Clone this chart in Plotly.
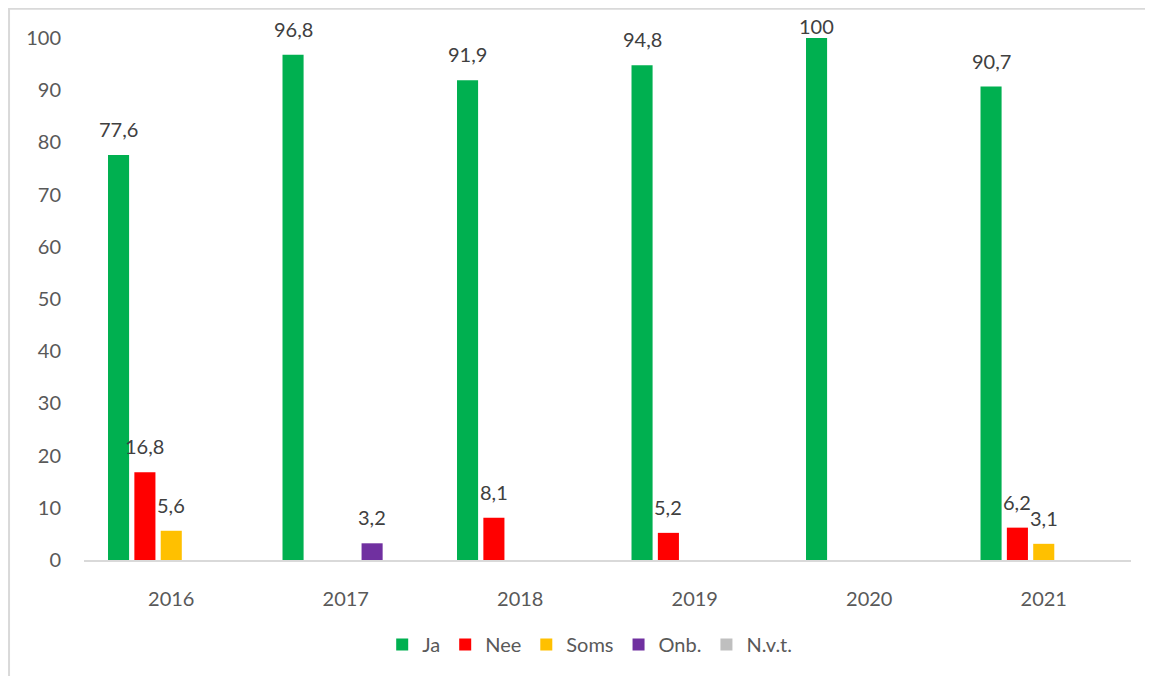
import plotly.graph_objects as go

years = ["2016", "2017", "2018", "2019", "2020", "2021"]
ja = [77.6, 96.8, 91.9, 94.8, 100, 90.7]
nee = [16.8, None, 8.1, 5.2, None, 6.2]
soms = [5.6, None, None, None, None, 3.1]
onb = [None, 3.2, None, None, None, None]
nvt = [None, None, None, None, None, None]

SERIES = [("Ja", ja, "#00b050"), ("Nee", nee, "#ff0000"), ("Soms", soms, "#ffc000"),
          ("Onb.", onb, "#7030a0"), ("N.v.t.", nvt, "#bfbfbf")]
FONT = "Lato, 'Open Sans', sans-serif"
TXT = "#404040"

W, H = 1145, 668          # page body has an 8px margin, figure sits 8px in
ML, MR, MT, MB = 76, 22, 30, 111
BARGAP = 0.245
PLOT_W, PLOT_H = W - ML - MR, H - MT - MB
SLOT = PLOT_W / len(years) * (1 - BARGAP) / len(SERIES)


def _lab(v):
    return f"{v:g}".replace(".", ",")


fig = go.Figure()
for i, (name, vals, color) in enumerate(SERIES):
    fig.add_trace(go.Bar(x=years, y=vals, name=name,
                         marker=dict(color=color, line=dict(width=0))))
    for j, v in enumerate(vals):
        if v is None:
            continue
        # excel pulls labels down when they would leave the chart area
        room = MT + PLOT_H * (1 - v / 100) - 10
        fig.add_annotation(x=j, y=v, text=_lab(v), showarrow=False, yanchor="bottom",
                           xshift=(i - 2) * SLOT, yshift=min(12, room - 22),
                           font=dict(size=20, color=TXT, family=FONT))

fig.update_layout(
    width=W, height=H, barmode="group", bargap=BARGAP, bargroupgap=0.2,
    plot_bgcolor="white", paper_bgcolor="white",
    margin=dict(l=ML, r=MR, t=MT, b=MB),
    font=dict(family=FONT, size=20, color=TXT),
    showlegend=True,
    legend=dict(orientation="h", x=0.483, xanchor="center", y=-0.162, yanchor="middle",
                font=dict(size=20, color="#595959"), itemwidth=30, tracegroupgap=0),
)
fig.update_xaxes(type="category", showline=True, linecolor="#d9d9d9", linewidth=2,
                 showgrid=False, ticks="", ticklabelstandoff=20, tickfont=dict(color="#595959"))
fig.update_yaxes(range=[0, 100], dtick=10, showgrid=False, zeroline=False, showline=False,
                 ticks="", ticklabelstandoff=22, tickfont=dict(color="#595959"))
fig.add_shape(type="rect", xref="paper", yref="paper", x0=-0.0716, x1=1.3, y0=-0.5, y1=1.056,
              line=dict(color="#d9d9d9", width=2), layer="below")

fig.write_html("out.html")
